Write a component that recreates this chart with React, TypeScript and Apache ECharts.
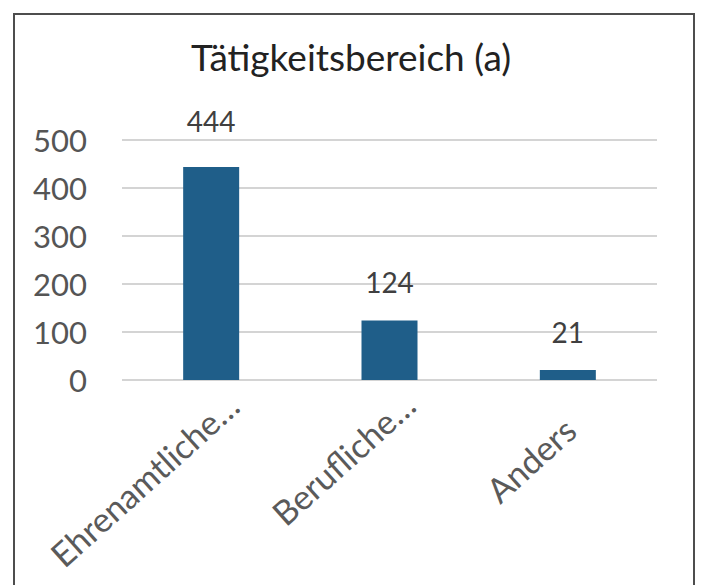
import React, { useEffect, useRef } from "react";
import * as echarts from "echarts";

const categories = ["Ehrenamtliche…", "Berufliche…", "Anders"];
const values = [444, 124, 21];
const yTicks = [0, 100, 200, 300, 400, 500];
const titleText = "Tätigkeitsbereich (a)";
const labelShift = [-13, -12, 18];
const labelLineHeight = [36, 32, 46];

export default function App() {
  const ref = useRef<HTMLDivElement>(null);
  useEffect(() => {
    if (!ref.current) return;
    const chart = echarts.init(ref.current, null, { renderer: "svg" });
    const font = "Lato, 'Open Sans', sans-serif";
    chart.setOption({
      animation: false,
      backgroundColor: "#ffffff",
      title: {
        text: titleText,
        left: "center",
        top: 33,
        textStyle: { fontFamily: font, fontSize: 37, fontWeight: "normal", color: "#222222" },
      },
      graphic: [
        {
          type: "rect",
          shape: { x: 14, y: 14, width: 680, height: 620 },
          style: { fill: "none", stroke: "#4d4d4d", lineWidth: 2 },
          silent: true,
        },
      ],
      grid: { left: 122, right: 45, top: 140, bottom: 205 },
      xAxis: {
        type: "category",
        data: categories.map((c, i) => ({
          value: c,
          textStyle: { padding: [0, labelShift[i], 0, 0], lineHeight: labelLineHeight[i] },
        })),
        axisLine: { show: false },
        axisTick: { show: false },
        axisLabel: {
          rotate: 42,
          interval: 0,
          margin: 15,
          formatter: (v: string) => "\n" + v,
          fontFamily: font,
          fontSize: 34,
          color: "#5a5a5a",
        },
      },
      yAxis: {
        type: "value",
        min: yTicks[0],
        max: yTicks[yTicks.length - 1],
        interval: 100,
        axisLine: { show: false },
        axisTick: { show: false },
        axisLabel: { margin: 35, fontFamily: font, fontSize: 31, color: "#555555" },
        splitLine: { lineStyle: { color: "#d4d4d4", width: 2 } },
      },
      series: [
        {
          type: "bar",
          data: values.map((v, i) => (i === 0 ? { value: v, label: { distance: 32 } } : v)),
          barWidth: 56,
          itemStyle: { color: "#1f5e89" },
          label: {
            show: true,
            position: "top",
            distance: 24,
            fontFamily: font,
            fontSize: 28,
            color: "#404040",
          },
        },
      ],
    });
    return () => chart.dispose();
  }, []);
  return (
    <div
      ref={ref}
      style={{ position: "fixed", left: 0, top: 0, width: 702, height: 585 }}
    />
  );
}
